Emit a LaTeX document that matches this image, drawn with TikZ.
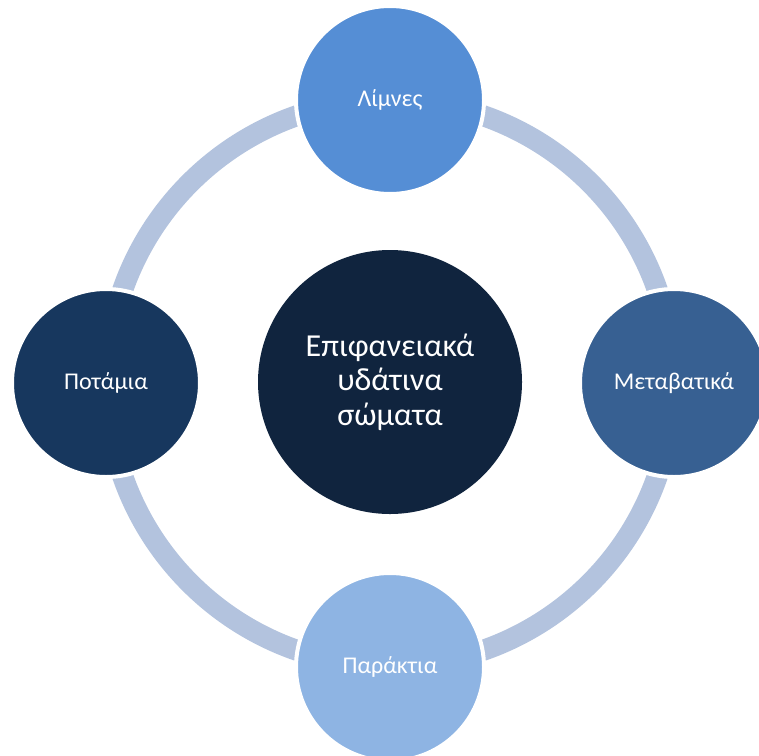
\documentclass[tikz,border=0pt]{standalone}
\usepackage{fontspec}
\setmainfont{Carlito}
\definecolor{ringc}{HTML}{B3C3DE}
\definecolor{topc}{HTML}{558ED5}
\definecolor{rightc}{HTML}{376092}
\definecolor{leftc}{HTML}{17375E}
\definecolor{botc}{HTML}{8EB4E3}
\definecolor{cenc}{HTML}{10243E}
\begin{document}
\begin{tikzpicture}[x=1pt,y=-1pt,
  outer/.style={circle,draw=white,line width=4pt,minimum size=188pt,inner sep=0pt,text=white,font=\fontsize{24}{28}\selectfont},
  centre/.style={circle,minimum size=264pt,inner sep=0pt,text=white,align=center,font=\fontsize{32}{34.5}\selectfont}]
\useasboundingbox (0,0) rectangle (759,755);
\clip (0,0) rectangle (759,755);
\fill[white] (0,0) rectangle (759,755);
\coordinate (ringcentre) at (390,383);
\draw[ringc,line width=21pt] (ringcentre) circle (283);
\node[outer,fill=topc] (lakes) at (390,100) {Λίμνες};
\node[outer,fill=rightc] (trans) at (674,383) {Μεταβατικά};
\node[outer,fill=leftc] (rivers) at (106,383) {Ποτάμια};
\node[outer,fill=botc] (coast) at (390,667) {Παράκτια};
\node[centre,fill=cenc] (surface) at (390,382) {Επιφανειακά\\υδάτινα\\σώματα};
\end{tikzpicture}
\end{document}
